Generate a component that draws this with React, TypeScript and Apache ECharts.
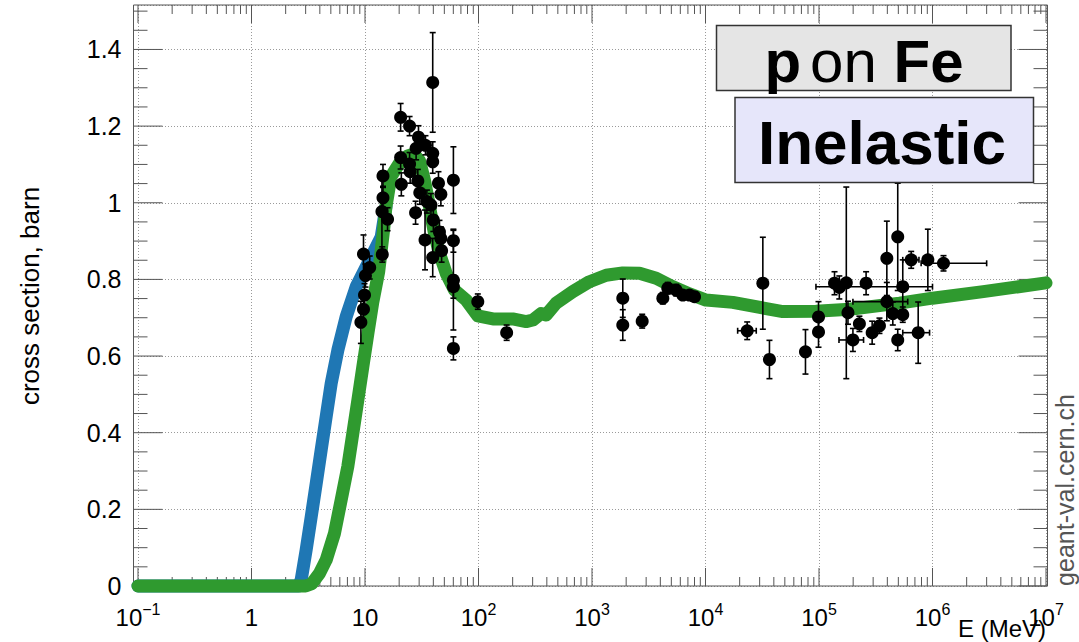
import React, { useEffect, useRef } from "react";
import * as echarts from "echarts";

const FONT = '"Liberation Sans", Arial, Helvetica, sans-serif';

// Model curves: kinetic energy (MeV) -> inelastic cross section (barn)
const greenEnergy = [
  0.1, 1, 3.0, 3.4, 3.97, 4.55, 5.38, 6.16, 7.05, 7.81, 8.65, 9.57, 10.6, 11.7, 13.2, 14.6, 15.3,
  16.9, 20.1, 23.8, 27.0, 30.2, 33.4, 37.0, 40.9, 45.3, 51.9, 61.5, 78, 98.7, 134, 200, 263, 301,
  356, 394, 483, 677, 950, 1333, 1868, 2622, 3679, 5157, 7228, 10100, 17400, 48000, 94000, 186000,
  512000, 1.0e6, 2.8e6, 1e7,
];
const greenXs = [
  0, 0, 0, 0.006, 0.033, 0.068, 0.137, 0.224, 0.311, 0.398, 0.485, 0.572, 0.659, 0.74, 0.82, 0.93,
  0.99, 1.068, 1.103, 1.122, 1.127, 1.11, 1.059, 0.99, 0.92, 0.868, 0.816, 0.772, 0.746, 0.705,
  0.697, 0.697, 0.69, 0.694, 0.711, 0.707, 0.738, 0.768, 0.794, 0.811, 0.817, 0.816, 0.803, 0.781,
  0.762, 0.746, 0.74, 0.716, 0.717, 0.722, 0.738, 0.751, 0.768, 0.791,
];
const blueEnergy = [0.1, 1, 2.6, 2.74, 3.03, 3.36, 3.72, 4.11, 4.55, 5.04, 5.77, 6.83, 8.36, 11.0, 13.9, 15.3];
const blueXs = [0, 0, 0, 0.016, 0.094, 0.181, 0.268, 0.355, 0.442, 0.529, 0.616, 0.703, 0.781, 0.851, 0.911, 0.99];

// Measurements: energy (MeV), cross section (barn), its error, and energy range (0 = none)
const dataEnergy = [
  9.7, 11.0, 10.1, 9.9, 9.7, 9.2,
  14.2, 14.4, 14.4, 14.1, 15.8, 20.6, 24.7, 29.6, 28.2, 34.1, 39.5, 39.5, 39.5, 20.6, 24.7, 25.0,
  29.2, 20.9, 44.4, 60.1, 46.6, 30.4, 35.1, 38.1, 27.9, 40.0, 45.3, 46.6, 33.8, 60.1, 39.5, 47.3,
  60.1, 60.1, 60.1, 98.6, 177,
  1867, 1867, 2768, 4207, 4656, 5517, 6310, 7228, 8000,
  23.3e3, 32e3, 36.6e3, 76e3, 99e3, 99e3, 137e3, 151e3, 174e3, 180e3, 199e3, 227e3, 260e3, 294e3,
  341e3, 396e3, 396e3, 447e3, 494e3, 494e3, 547e3, 547e3, 649e3, 748e3, 910e3, 1.25e6,
];
const dataXs = [
  0.866, 0.831, 0.81, 0.759, 0.722, 0.688,
  0.865, 1.07, 1.013, 0.977, 0.957, 1.223, 1.2, 1.171, 1.142, 1.15, 1.314, 1.129, 1.107, 1.118,
  1.101, 1.081, 1.057, 1.048, 1.051, 1.059, 1.022, 1.026, 1.003, 0.994, 0.974, 0.955, 0.924, 0.907,
  0.903, 0.901, 0.857, 0.875, 0.798, 0.781, 0.62, 0.742, 0.661,
  0.751, 0.681, 0.691, 0.751, 0.777, 0.772, 0.759, 0.759, 0.755,
  0.666, 0.79, 0.591, 0.611, 0.702, 0.663, 0.79, 0.779, 0.791, 0.713, 0.642, 0.684, 0.79, 0.661,
  0.679, 0.855, 0.742, 0.711, 0.911, 0.642, 0.781, 0.708, 0.851, 0.661, 0.851, 0.842,
];
const dataXsErr = [
  0.05, 0.03, 0.03, 0.03, 0.03, 0.055,
  0.02, 0.03, 0.03, 0.1, 0.03, 0.036, 0.025, 0.03, 0.03, 0.025, 0.13, 0.03, 0.03, 0.03, 0.03, 0.03,
  0.03, 0.03, 0.03, 0.087, 0.03, 0.03, 0.03, 0.03, 0.03, 0.03, 0.03, 0.03, 0.078, 0.03, 0.05, 0.03,
  0.13, 0.03, 0.03, 0.02, 0.02,
  0.05, 0.04, 0.018, 0.015, 0.015, 0.015, 0.01, 0.01, 0.01,
  0.023, 0.12, 0.05, 0.058, 0.04, 0.04, 0.03, 0.03, 0.25, 0.03, 0.03, 0.02, 0.03, 0.03, 0.02,
  0.097, 0.05, 0.03, 0.14, 0.028, 0.07, 0.02, 0.022, 0.08, 0.08, 0.02,
];
const dataEnergyLow = [
  0, 0, 0, 0, 0, 0,
  0, 0, 0, 0, 0, 0, 0, 0, 0, 0, 0, 0, 0, 0, 0, 0, 0, 0, 0, 0, 0, 0, 0, 0, 0, 0, 0, 0, 0, 0, 0, 0,
  0, 0, 0, 0, 0,
  0, 0, 0, 0, 0, 0, 0, 0, 0,
  19.2e3, 0, 0, 0, 0, 0, 0, 0, 0, 0, 150e3, 0, 0, 0,
  0, 0, 199e3, 0, 0, 0, 94e3, 0, 547e3, 547e3, 0, 794e3,
];
const dataEnergyHigh = [
  0, 0, 0, 0, 0, 0,
  0, 0, 0, 0, 0, 0, 0, 0, 0, 0, 0, 0, 0, 0, 0, 0, 0, 0, 0, 0, 0, 0, 0, 0, 0, 0, 0, 0, 0, 0, 0, 0,
  0, 0, 0, 0, 0,
  0, 0, 0, 0, 0, 0, 0, 0, 0,
  28e3, 0, 0, 0, 0, 0, 0, 0, 0, 0, 247e3, 0, 0, 0,
  0, 0, 605e3, 0, 0, 0, 1.0e6, 0, 760e3, 942e3, 0, 3.0e6,
];

// Axis layout
const xDecades = [-1, 0, 1, 2, 3, 4, 5, 6, 7];
const yMax = 1.516;
const yStep = 0.2;
const yMinorStep = 0.05;

const FRAME_LEFT_PAD = 4.5;
const FRAME_RIGHT_PAD = 1.5;
const TICK_COLOR = "#555";

function xLabel(v: number): string {
  const e = Math.round(Math.log10(v));
  if (e === 0) return "{b|1}";
  if (e === 1) return "{b|10}";
  const sup = e < 0 ? "\u2212" + String(-e) : String(e);
  return "{b|10}{s|" + sup + "}";
}

export default function App() {
  const ref = useRef<HTMLDivElement>(null);

  useEffect(() => {
    const chart = echarts.init(ref.current!, null, { renderer: "svg" });

    // tick marks: [x, y, kind]  kind 0 = x minor, 1 = x major, 2 = y minor, 3 = y major
    const ticks: number[][] = [];
    xDecades.forEach((d) => {
      ticks.push([Math.pow(10, d), 0, 1]);
      if (d < 7) for (let m = 2; m <= 9; m++) ticks.push([m * Math.pow(10, d), 0, 0]);
    });
    for (let i = 0; i * yMinorStep <= yMax + 1e-9; i++) {
      const v = +(i * yMinorStep).toFixed(3);
      const major = Math.abs(v / yStep - Math.round(v / yStep)) < 1e-6;
      ticks.push([1, v, major ? 3 : 2]);
    }

    const measured = dataEnergy.map((e, i) => [e, dataXs[i], dataXsErr[i], dataEnergyLow[i], dataEnergyHigh[i]]);

    const option: any = {
      animation: false,
      backgroundColor: "#ffffff",
      grid: { left: 138, right: 33, top: 5, bottom: 56, containLabel: false },
      xAxis: {
        type: "log",
        logBase: 10,
        min: 0.1,
        max: 1e7,
        axisLine: { show: false },
        axisTick: { show: false },
        minorTick: { show: false },
        splitLine: { show: true, lineStyle: { color: "#9a9a9a", width: 1, type: [1, 2] } },
        axisLabel: {
          margin: 15,
          color: "#000",
          formatter: (v: number) => xLabel(v),
          rich: {
            b: { fontSize: 24, fontFamily: FONT, color: "#000", lineHeight: 28, verticalAlign: "bottom" },
            s: { fontSize: 16, fontFamily: FONT, color: "#000", lineHeight: 28, verticalAlign: "top" },
          },
        },
      },
      yAxis: {
        type: "value",
        min: 0,
        max: yMax,
        interval: yStep,
        offset: FRAME_LEFT_PAD,
        axisLine: { show: false },
        axisTick: { show: false },
        splitLine: { show: true, lineStyle: { color: "#9a9a9a", width: 1, type: [1, 2] } },
        axisLabel: {
          fontSize: 25,
          fontFamily: FONT,
          color: "#000",
          margin: 12,
          showMaxLabel: false,
        },
      },
      graphic: [
        {
          type: "rect",
          z: 1,
          silent: true,
          shape: { x: 133.5, y: 5, width: 914, height: 581 },
          style: { fill: "none", stroke: TICK_COLOR, lineWidth: 1 },
        },
        {
          type: "text",
          z: 50,
          x: 30,
          y: 296,
          rotation: Math.PI / 2,
          style: {
            text: "cross section, barn",
            font: `26px ${FONT}`,
            fill: "#000",
            align: "center",
            verticalAlign: "middle",
          },
        },
        {
          type: "text",
          z: 50,
          x: 1046,
          y: 628,
          style: {
            text: "E (MeV)",
            font: `24px ${FONT}`,
            fill: "#000",
            align: "right",
            verticalAlign: "middle",
          },
        },
        {
          type: "text",
          z: 50,
          x: 1065,
          y: 490,
          rotation: Math.PI / 2,
          style: {
            text: "geant-val.cern.ch",
            font: `25px ${FONT}`,
            fill: "#555",
            align: "center",
            verticalAlign: "middle",
          },
        },
        {
          type: "rect",
          z: 60,
          shape: { x: 716.5, y: 25.5, width: 294.5, height: 65 },
          style: { fill: "#e5e5e5", stroke: "#333", lineWidth: 1.5 },
        },
        {
          type: "text",
          z: 61,
          x: 864,
          y: 61,
          style: {
            text: "{b|p}{r|on} {b|Fe}",
            font: `60px ${FONT}`,
            fill: "#000",
            align: "center",
            verticalAlign: "middle",
            rich: {
              b: { font: `bold 60px ${FONT}`, fill: "#000" },
              r: { font: `60px ${FONT}`, fill: "#000", padding: [0, 0, 0, 9] },
            },
          },
        },
        {
          type: "rect",
          z: 60,
          shape: { x: 735, y: 97.5, width: 298.5, height: 85 },
          style: { fill: "#e6e6fa", stroke: "#333", lineWidth: 1.5 },
        },
        {
          type: "text",
          z: 61,
          x: 882,
          y: 142,
          style: {
            text: "Inelastic",
            font: `bold 62px ${FONT}`,
            fill: "#000",
            align: "center",
            verticalAlign: "middle",
          },
        },
      ],
      series: [
        {
          name: "ticks",
          type: "custom",
          z: 1,
          silent: true,
          clip: false,
          data: ticks,
          encode: { x: 0, y: 1 },
          renderItem: (params: any, api: any) => {
            const cs = params.coordSys;
            const kind = api.value(2);
            const st = { stroke: TICK_COLOR, lineWidth: 1 };
            if (kind <= 1) {
              const px = api.coord([api.value(0), 0])[0];
              const len = kind === 1 ? 18 : 9;
              const yb = cs.y + cs.height;
              const yt = cs.y;
              return {
                type: "group",
                children: [
                  { type: "line", shape: { x1: px, y1: yb, x2: px, y2: yb - len }, style: st },
                  { type: "line", shape: { x1: px, y1: yt, x2: px, y2: yt + len }, style: st },
                ],
              };
            }
            const py = api.coord([1, api.value(1)])[1];
            const len = kind === 3 ? 29 : 14;
            const xl = cs.x - FRAME_LEFT_PAD;
            const xr = cs.x + cs.width + FRAME_RIGHT_PAD;
            return {
              type: "group",
              children: [
                { type: "line", shape: { x1: xl, y1: py, x2: xl + len, y2: py }, style: st },
                { type: "line", shape: { x1: xr, y1: py, x2: xr - len, y2: py }, style: st },
              ],
            };
          },
        },
        {
          name: "blue",
          type: "line",
          z: 3,
          clip: false,
          showSymbol: false,
          data: blueEnergy.map((e, i) => [e, blueXs[i]]),
          lineStyle: { color: "#1f77b4", width: 13, cap: "round", join: "round" },
        },
        {
          name: "green",
          type: "line",
          z: 4,
          clip: false,
          showSymbol: false,
          data: greenEnergy.map((e, i) => [e, greenXs[i]]),
          lineStyle: { color: "#2f9a2f", width: 13, cap: "round", join: "round" },
        },
        {
          name: "errors",
          type: "custom",
          z: 5,
          clip: false,
          data: measured,
          encode: { x: 0, y: 1 },
          renderItem: (_params: any, api: any) => {
            const e = api.value(0);
            const s = api.value(1);
            const ds = api.value(2);
            const el = api.value(3);
            const eh = api.value(4);
            const c = api.coord([e, s]);
            const st = { stroke: "#000", lineWidth: 1.6 };
            const children: any[] = [];
            if (ds > 0) {
              const t = api.coord([e, s + ds])[1];
              const b = api.coord([e, s - ds])[1];
              children.push({ type: "line", shape: { x1: c[0], y1: t, x2: c[0], y2: b }, style: st });
              children.push({ type: "line", shape: { x1: c[0] - 3, y1: t, x2: c[0] + 3, y2: t }, style: st });
              children.push({ type: "line", shape: { x1: c[0] - 3, y1: b, x2: c[0] + 3, y2: b }, style: st });
            }
            if (el > 0 && eh > 0) {
              const l = api.coord([el, s])[0];
              const r = api.coord([eh, s])[0];
              children.push({ type: "line", shape: { x1: l, y1: c[1], x2: r, y2: c[1] }, style: st });
              children.push({ type: "line", shape: { x1: l, y1: c[1] - 3, x2: l, y2: c[1] + 3 }, style: st });
              children.push({ type: "line", shape: { x1: r, y1: c[1] - 3, x2: r, y2: c[1] + 3 }, style: st });
            }
            return { type: "group", children };
          },
        },
        {
          name: "data",
          type: "scatter",
          z: 6,
          clip: false,
          symbol: "circle",
          symbolSize: 13,
          data: dataEnergy.map((e, i) => [e, dataXs[i]]),
          itemStyle: { color: "#000", opacity: 1 },
          emphasis: { disabled: true },
        },
      ],
    };

    chart.setOption(option);
    return () => chart.dispose();
  }, []);

  return (
    <div
      ref={ref}
      style={{ position: "fixed", left: 0, top: 0, width: 1079, height: 642, background: "#fff" }}
    />
  );
}
